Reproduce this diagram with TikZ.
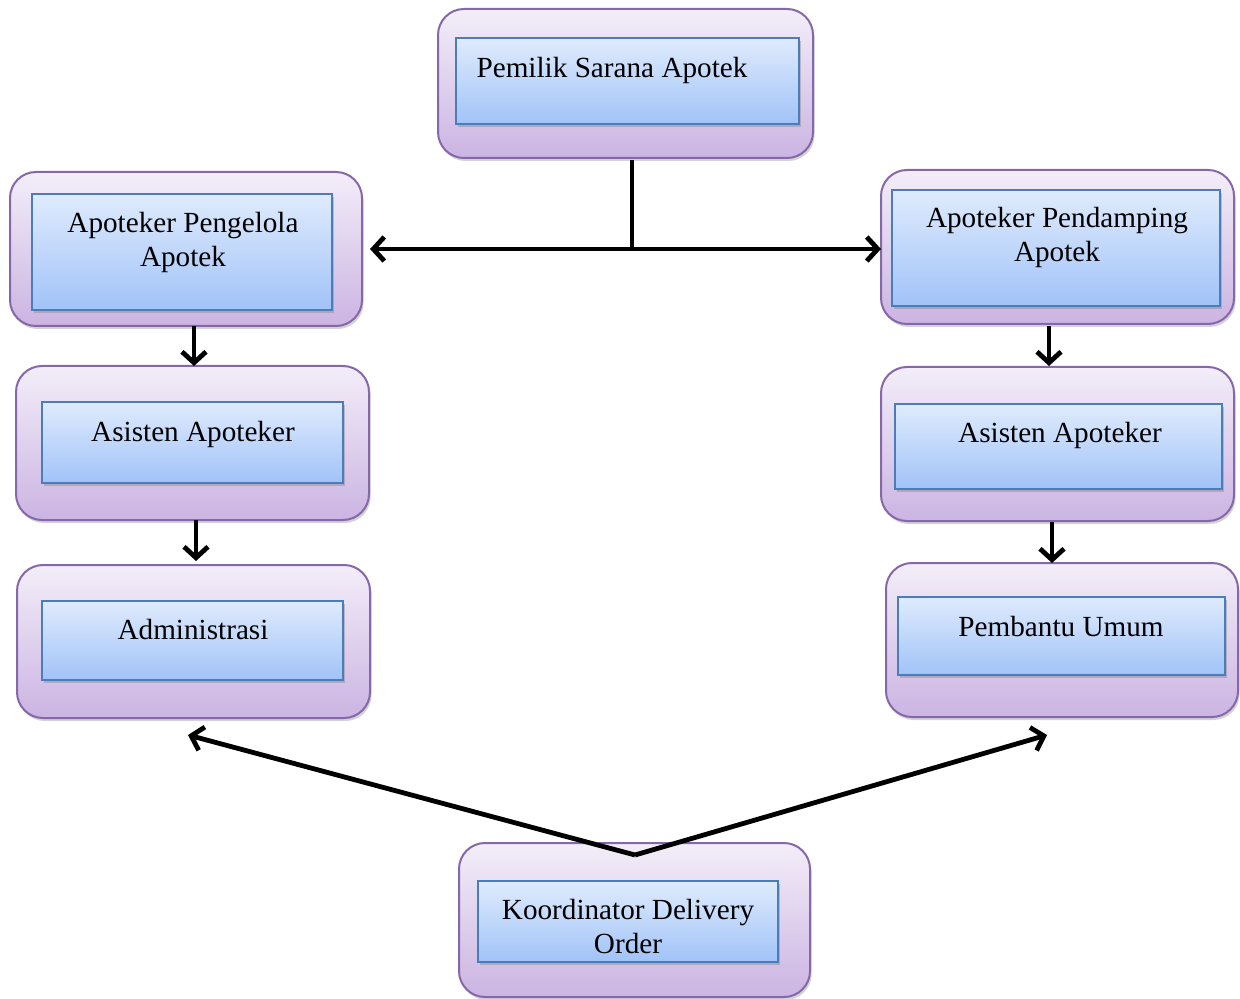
\documentclass[tikz,border=0pt]{standalone}
\usepackage{fontspec}
\setmainfont{Liberation Serif}
\usetikzlibrary{fit,shadows,arrows.meta}
\definecolor{outerTop}{HTML}{F3EEF9}
\definecolor{outerBot}{HTML}{CBB4E2}
\definecolor{outerBorder}{HTML}{8767AC}
\definecolor{innerTop}{HTML}{DFEBFD}
\definecolor{innerBot}{HTML}{A1C3F8}
\definecolor{innerBorder}{HTML}{4A7EBB}
\tikzset{
  outerbox/.style={draw=outerBorder, line width=1pt, rounded corners=13pt, top color=outerTop, bottom color=outerBot, inner sep=0pt,
    drop shadow={opacity=0.35, shadow xshift=0.8pt, shadow yshift=-1.5pt}},
  innerbox/.style={draw=innerBorder, line width=0.8pt, top color=innerTop, bottom color=innerBot, inner sep=0pt,
    drop shadow={opacity=0.4, shadow xshift=0.8pt, shadow yshift=-1.5pt}},
  lbl/.style={font=\fontsize{14.6}{17}\selectfont, align=center, inner sep=0pt, text=black},
  conn/.style={line width=2.4pt, black},
  arr/.style={conn, -{Straight Barb[length=5.5pt,width=12pt,line width=2.4pt]}},
}
\begin{document}
\begin{tikzpicture}[x=0.5pt,y=-0.5pt]
\useasboundingbox (0,0) rectangle (1240,999);
% boxes
\node[outerbox, fit={(438,9) (813,158)}] (o1) {};
\node[innerbox, fit={(456,38) (799,124)}] (i1) {};
\node[lbl, anchor=center] (t1) at (612,70) {Pemilik Sarana Apotek};

\node[outerbox, fit={(10,172) (362,326)}] (o2) {};
\node[innerbox, fit={(32,194) (332,310)}] (i2) {};
\node[lbl] (t2) at (183,242) {Apoteker Pengelola\\Apotek};

\node[outerbox, fit={(881,170) (1234,324)}] (o3) {};
\node[innerbox, fit={(892,190) (1220,306)}] (i3) {};
\node[lbl] (t3) at (1057,237) {Apoteker Pendamping\\Apotek};

\node[outerbox, fit={(16,366) (369,520)}] (o4) {};
\node[innerbox, fit={(42,402) (343,483)}] (i4) {};
\node[lbl] (t4) at (193,434) {Asisten Apoteker};

\node[outerbox, fit={(881,367) (1234,521)}] (o5) {};
\node[innerbox, fit={(895,404) (1222,489)}] (i5) {};
\node[lbl] (t5) at (1060,435) {Asisten Apoteker};

\node[outerbox, fit={(17,565) (370,718)}] (o6) {};
\node[innerbox, fit={(42,601) (343,680)}] (i6) {};
\node[lbl] (t6) at (193,630) {Administrasi};

\node[outerbox, fit={(886,563) (1238,717)}] (o7) {};
\node[innerbox, fit={(898,597) (1225,675)}] (i7) {};
\node[lbl] (t7) at (1061,627) {Pembantu Umum};

\node[outerbox, fit={(459,843) (810,997)}] (o8) {};
\node[innerbox, fit={(478,881) (778,962)}] (i8) {};
\node[lbl] (t8) at (628,927) {Koordinator Delivery\\Order};

% connectors
\coordinate (top) at (632,160);
\coordinate (j) at (632,249);
\coordinate (jl) at (370,249);
\coordinate (jr) at (881,249);
\draw[conn] (top) -- (j);
\draw[arr] (j) -- (jl);
\draw[arr] (j) -- (jr);

\coordinate (a1) at (194,326); \coordinate (a1e) at (194,366);
\coordinate (a2) at (196,520); \coordinate (a2e) at (196,561);
\coordinate (a3) at (1049,326); \coordinate (a3e) at (1049,366);
\coordinate (a4) at (1052,522); \coordinate (a4e) at (1052,563);
\draw[arr] (a1) -- (a1e);
\draw[arr] (a2) -- (a2e);
\draw[arr] (a3) -- (a3e);
\draw[arr] (a4) -- (a4e);

\coordinate (b) at (635,855);
\coordinate (bl) at (188,735);
\coordinate (br) at (1047,735);
\draw[arr] (b) -- (bl);
\draw[arr] (b) -- (br);
\end{tikzpicture}
\end{document}
